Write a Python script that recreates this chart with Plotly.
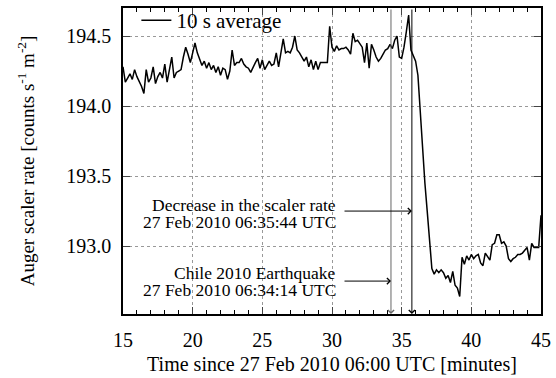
import numpy as np
import plotly.graph_objects as go

# 10 s averages, minutes after 06:00 UTC
t_start = 15.0
t_step = 1.0 / 6.0
rate = [
    194.28, 194.17, 194.20, 194.23, 194.19, 194.26, 194.21, 194.18, 194.14, 194.09,
    194.26, 194.17, 194.20, 194.28, 194.16, 194.21, 194.24, 194.20, 194.30, 194.17,
    194.26, 194.35, 194.20, 194.24, 194.25, 194.26, 194.35, 194.42, 194.37, 194.31,
    194.38, 194.45, 194.38, 194.33, 194.29, 194.32, 194.27, 194.31, 194.26, 194.29,
    194.24, 194.28, 194.22, 194.27, 194.26, 194.19, 194.25, 194.40, 194.29, 194.31,
    194.31, 194.34, 194.30, 194.28, 194.27, 194.24, 194.28, 194.31, 194.34, 194.27,
    194.33, 194.26, 194.29, 194.32, 194.29, 194.30, 194.38, 194.28, 194.38, 194.48,
    194.38, 194.39, 194.38, 194.42, 194.50, 194.40, 194.38, 194.35, 194.32, 194.35,
    194.28, 194.33, 194.26, 194.32, 194.26, 194.31, 194.31, 194.31, 194.31, 194.57,
    194.42, 194.39, 194.43, 194.40, 194.41, 194.41, 194.42, 194.40, 194.37, 194.52,
    194.46, 194.47, 194.44, 194.42, 194.31, 194.45, 194.27, 194.44, 194.40, 194.35,
    194.32, 194.34, 194.37, 194.40, 194.41, 194.44, 194.41, 194.47, 194.50, 194.35,
    194.34, 194.42, 194.53, 194.65, 194.40, 194.36, 194.32, 194.22, 193.95, 193.67,
    193.45, 193.25, 193.04, 192.84, 192.80, 192.83, 192.81, 192.83, 192.81, 192.77,
    192.79, 192.74, 192.82, 192.72, 192.70, 192.64, 192.92, 192.87, 192.93, 192.90,
    192.94, 192.91, 192.93, 192.94, 192.88, 192.86, 192.95, 192.92, 192.90, 193.01,
    193.02, 193.08, 193.08, 193.02, 193.03, 193.00, 192.91, 192.89, 192.91, 192.92,
    192.94, 192.94, 192.95, 192.97, 192.99, 192.90, 193.02, 192.99, 192.99, 192.99,
    193.22,
]
minutes = [t_start + i * t_step for i in range(len(rate))]

quake_t = 34 + 14 / 60.0      # 06:34:14 UTC
drop_t = 35 + 44 / 60.0       # 06:35:44 UTC
quake_lines = ['Chile 2010 Earthquake', '27 Feb 2010 06:34:14 UTC']
drop_lines = ['Decrease in the scaler rate', '27 Feb 2010 06:35:44 UTC']

x_range = [15, 45]
y_range = [192.515, 194.7]
serif = 'Liberation Serif'

fig = go.Figure()
fig.add_trace(go.Scatter(x=minutes, y=rate, mode='lines', name='10 s average',
                         line=dict(color='black', width=1.5)))

# vertical markers with arrow heads at the bottom
for xv, col in [(quake_t, '#666666'), (drop_t, 'black')]:
    fig.add_annotation(x=xv, y=y_range[0], ax=xv, ay=y_range[1], xref='x', yref='y',
                       axref='x', ayref='y', text='', showarrow=True, arrowhead=4,
                       arrowsize=1.2, arrowwidth=1, arrowcolor=col)

# labels (two lines each, tight spacing) with horizontal arrows
for xv, yv, lines, ys in [(drop_t, 193.25, drop_lines, (193.293, 193.171)),
                          (quake_t, 192.75, quake_lines, (192.807, 192.686))]:
    fig.add_annotation(x=xv, y=yv, ax=30.79, ay=yv, xref='x', yref='y', axref='x', ayref='y',
                       text='', showarrow=True, arrowhead=4, arrowsize=1.2, arrowwidth=1,
                       arrowcolor='black')
    for txt, ty in zip(lines, ys):
        fig.add_annotation(x=30.4, y=ty, xref='x', yref='y', text=txt, showarrow=False,
                           xanchor='right', yanchor='middle', align='right',
                           font=dict(family=serif, size=17.5, color='black'))

fig.update_xaxes(range=x_range, dtick=5, tick0=15, ticks='inside', ticklen=7, tickwidth=1,
                 showline=True, linecolor='black', linewidth=1.5, mirror='allticks',
                 showgrid=True, gridcolor='#999999', griddash='dot', gridwidth=1,
                 minor=dict(dtick=1, ticks='inside', ticklen=4, tickcolor='black', showgrid=False),
                 zeroline=False, ticklabelstandoff=7, automargin=False,
                 tickfont=dict(family=serif, size=20, color='black'),
                 title=dict(text='Time since 27 Feb 2010 06:00 UTC [minutes]', standoff=7,
                            font=dict(family=serif, size=20, color='black')))
fig.update_yaxes(range=y_range, tickvals=[193.0, 193.5, 194.0, 194.5], tickformat='.1f',
                 ticks='inside', ticklen=7, tickwidth=1,
                 showline=True, linecolor='black', linewidth=1.5, mirror='allticks',
                 showgrid=True, gridcolor='#999999', griddash='dot', gridwidth=1,
                 zeroline=False, ticklabelstandoff=6, automargin=False,
                 tickfont=dict(family=serif, size=20, color='black'),
                 title=dict(text='Auger scaler rate [counts s<sup>-1</sup> m<sup>-2</sup>]', standoff=27,
                            font=dict(family=serif, size=19, color='black')))

fig.update_layout(width=556, height=378, margin=dict(l=123, r=15, t=8, b=64, autoexpand=False),
                  plot_bgcolor='white', paper_bgcolor='white',
                  showlegend=True,
                  legend=dict(x=0.032, y=1.0, xref='paper', yref='container',
                              xanchor='left', yanchor='top',
                              bgcolor='rgba(0,0,0,0)', itemwidth=30,
                              font=dict(family=serif, size=21, color='black')))

fig.write_html('out.html', config={'displayModeBar': False},
               post_script="document.body.style.margin='0';")
